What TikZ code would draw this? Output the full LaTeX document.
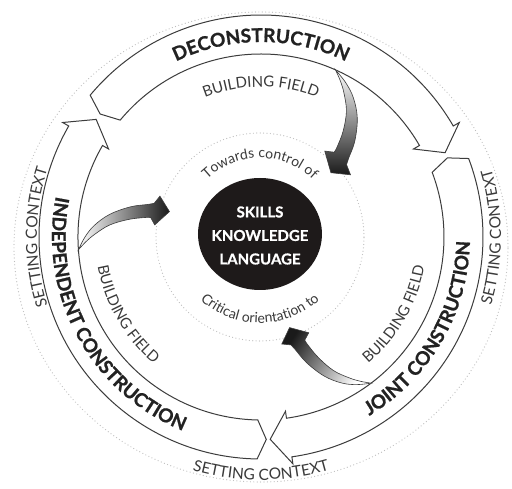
\documentclass[tikz,border=0pt]{standalone}
\usepackage{fontspec}
\setmainfont{Lato}
\newfontfamily\heavyfam{Lato}[FakeBold=0.9]
\usetikzlibrary{decorations.text}
\definecolor{edge}{HTML}{3C3C3C}
\definecolor{ink}{HTML}{222222}
\definecolor{soft}{HTML}{3A3A3A}
\definecolor{dots}{HTML}{BDBDBD}
\definecolor{disc}{HTML}{1E1A1A}
\definecolor{tipdark}{HTML}{1A1A1A}
\newcommand{\ringfont}{\heavyfam\fontsize{19}{19}\selectfont\bfseries}
\newcommand{\bandfont}{\fontsize{15}{15}\selectfont}
\newcommand{\setfont}{\fontsize{15.5}{15.5}\selectfont}
\newcommand{\innerfont}{\fontsize{14}{14}\selectfont}
% base angle, angular scale, shading options
\newcommand{\gradarrow}[3]{%
  \shade[draw=edge, line width=0.6pt, #3]
    plot[smooth, tension=0.6] coordinates {({#1}:183) ({#1-4*#2}:176) ({#1-8*#2}:167) ({#1-12.5*#2}:153) ({#1-17*#2}:134) ({#1-20*#2}:118) ({#1-21.5*#2}:112)}
    -- ({#1-26*#2}:109) -- ({#1-19.5*#2}:95) -- ({#1-10.5*#2}:107)
    -- plot[smooth, tension=0.6] coordinates {({#1-14*#2}:112) ({#1-13.5*#2}:118) ({#1-11.5*#2}:134) ({#1-8.5*#2}:152) ({#1-5*#2}:166) ({#1-2.5*#2}:175) ({#1}:183)}
    -- cycle;}
% tail end angle, tail point angle, head base angle, tip angle
\newcommand{\ringarrow}[4]{%
  \filldraw[fill=white, draw=edge, line width=1pt, line join=miter]
    ({#1}:222) arc[start angle={#1}, end angle={#3}, radius=222]
    -- ({#3}:229) -- ({#4}:202.5) -- ({#3}:176) -- ({#3}:183)
    arc[start angle={#3}, end angle={#1}, radius=183] -- ({#2}:202.5) -- cycle;}
\tikzset{
  arctext/.style={decorate, decoration={text along path, text align=center, text={#1}}},
  dotring/.style={draw=dots, line width=1.2pt, line cap=round, dash pattern=on 0pt off 3.4pt},
}
\begin{document}
\begin{tikzpicture}[x=1pt, y=1pt]
  \useasboundingbox (-261,-252) rectangle (251,237);
  \fill[white] (-261,-252) rectangle (251,237);
  % dotted rings
  \draw[dotring] (0,-10) ellipse[x radius=247, y radius=235];
  \draw[dotring] (-1,0) circle[radius=104];
  % cycle arrows
  \ringarrow{140.3}{142.6}{30}{24.6}
  \ringarrow{20.7}{23}{-82}{-87.4}
  \ringarrow{269}{271.5}{150}{144.5}
  % shaded inner arrows
  \gradarrow{66}{1.2}{top color=white, bottom color=tipdark}
  \gradarrow{-53}{1}{top color=tipdark, bottom color=white, shading angle=58}
  \gradarrow{184}{1}{left color=white, right color=tipdark}
  % ring labels
  \path[arctext={|\ringfont\color{ink}|DECONSTRUCTION}] (150:195) arc[start angle=150, end angle=30, radius=195];
  \path[arctext={|\ringfont\color{ink}|INDEPENDENT CONSTRUCTION}] (148.4:209) arc[start angle=148.4, end angle=268.4, radius=209];
  \path[arctext={|\ringfont\color{ink}|JOINT CONSTRUCTION}] (-90:209) arc[start angle=-90, end angle=30, radius=209];
  % building field
  \path[arctext={|\bandfont\color{soft}|BUILDING FIELD}] (140:150) arc[start angle=140, end angle=40, radius=150];
  \path[arctext={|\bandfont\color{soft}|BUILDING FIELD}] (160:166) arc[start angle=160, end angle=260, radius=166];
  \path[arctext={|\bandfont\color{soft}|BUILDING FIELD}] (-80:166) arc[start angle=-80, end angle=20, radius=166];
  % setting context
  \path[arctext={|\setfont\color{soft}|SETTING CONTEXT}] (240:224) arc[start angle=240, end angle=120, radius=224];
  \path[arctext={|\setfont\color{soft}|SETTING CONTEXT}] (-60:240) arc[start angle=-60, end angle=60, radius=240];
  \path[arctext={|\setfont\color{soft}|SETTING CONTEXT}] (-150:243) arc[start angle=-150, end angle=-30, radius=243];
  % centre
  \begin{scope}[shift={(-1,3)}]
    \path[arctext={|\innerfont\color{soft}|Towards control of}] (160:76) arc[start angle=160, end angle=20, radius=76];
    \path[arctext={|\innerfont\color{soft}|Critical orientation to}] (-170:89) arc[start angle=-170, end angle=-10, radius=89];
    \fill[disc] (0,0) ellipse[x radius=62, y radius=56];
    \node[align=center, text=white, font=\heavyfam\fontsize{15}{23.5}\selectfont\bfseries] (core) at (0,-1.5) {SKILLS\\KNOWLEDGE\\LANGUAGE};
  \end{scope}
\end{tikzpicture}
\end{document}
